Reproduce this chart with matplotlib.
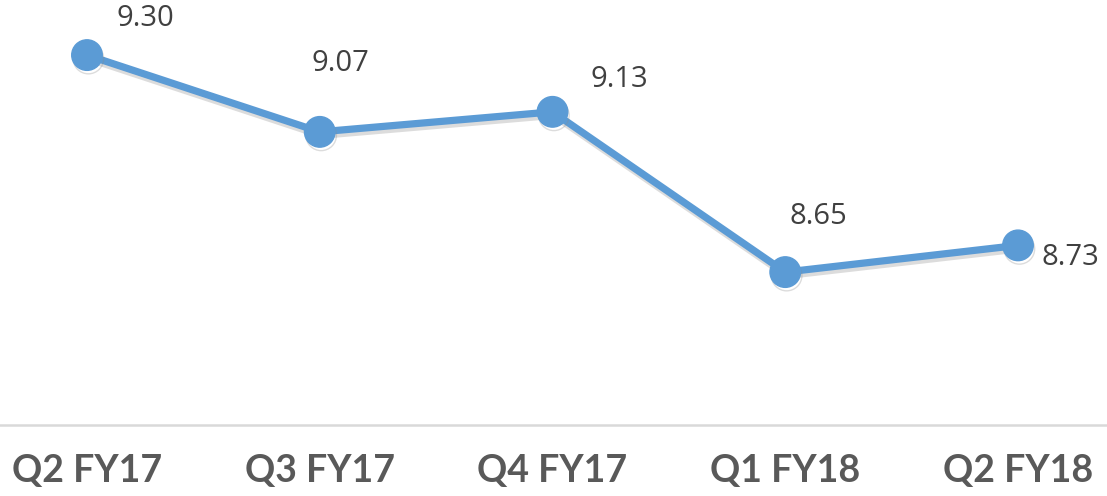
import matplotlib.pyplot as plt
import matplotlib.patheffects as pe

quarters = ['Q2 FY17', 'Q3 FY17', 'Q4 FY17', 'Q1 FY18', 'Q2 FY18']
values = [9.30, 9.07, 9.13, 8.65, 8.73]
value_labels = ['9.30', '9.07', '9.13', '8.65', '8.73']

# label offsets in points (dx, dy) relative to each marker, plus alignment
label_offsets = [(42, 26), (15, 49), (48, 23), (24, 40), (17, -9)]
label_ha = ['center', 'center', 'center', 'center', 'left']

line_color = '#5B9BD5'

fig = plt.figure(figsize=(11.07, 4.96), dpi=100)
ax = fig.add_axes([0, 71 / 496, 1, 425 / 496])

x = list(range(len(quarters)))
shadow = [pe.SimpleLineShadow(offset=(1, -2.5), shadow_color='#8c8c8c', alpha=0.3), pe.Normal()]
ax.plot(x, values, color=line_color, linewidth=5.2, marker='o', markersize=22,
        markerfacecolor=line_color, markeredgecolor=line_color, solid_capstyle='round',
        path_effects=shadow, zorder=3)

for xi, v, lab, (dx, dy), ha in zip(x, values, value_labels, label_offsets, label_ha):
    ax.annotate(lab, (xi, v), xytext=(dx, dy), textcoords='offset points',
                ha=ha, va='center', fontsize=21, color='#404040', family='Open Sans')

ax.set_xlim(-87 / 232.75, 4 + 89 / 232.75)
ax.set_ylim(8.192, 9.465)
ax.set_xticks(x)
ax.set_xticklabels(quarters, fontsize=27, fontweight='bold', color='#595959', family='Lato')
ax.tick_params(axis='x', length=0, pad=21)
ax.set_yticks([])
for s in ['top', 'left', 'right']:
    ax.spines[s].set_visible(False)
ax.spines['bottom'].set_color('#D9D9D9')
ax.spines['bottom'].set_linewidth(1.8)
ax.patch.set_alpha(0)

fig.savefig('out.png', dpi=100)
